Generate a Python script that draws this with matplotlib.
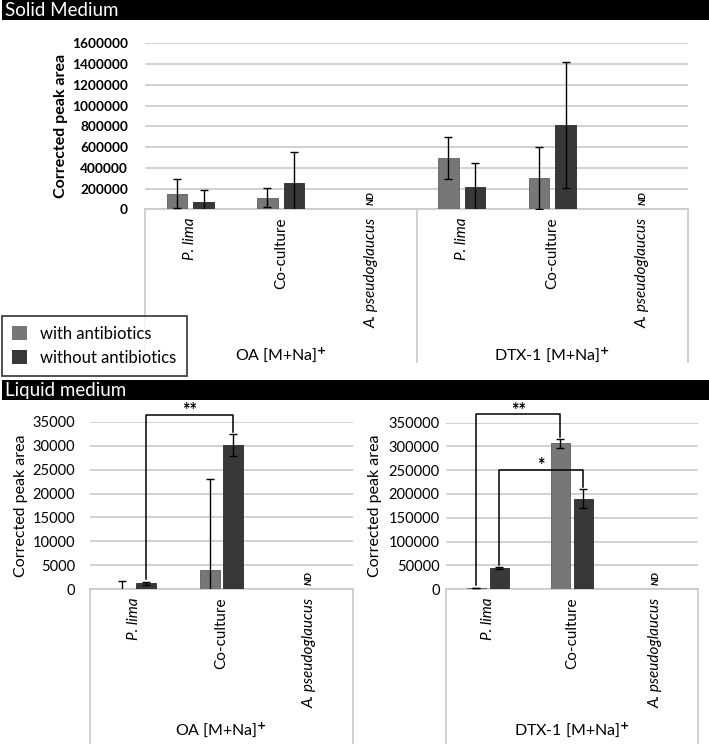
import matplotlib
matplotlib.use("Agg")
import matplotlib.pyplot as plt
from matplotlib.patches import Rectangle, Patch
from matplotlib.ticker import FuncFormatter
import matplotlib.transforms as mtransforms
import numpy as np

plt.rcParams['font.family'] = ['Lato', 'DejaVu Sans']

# ---------------- data ----------------
categories = ["P. lima", "Co-culture", "A. pseudoglaucus"]
italic_cats = [True, False, True]
nd_flags = [False, False, True]
series_labels = ["with antibiotics", "without antibiotics"]
compounds = ["OA [M+Na]", "DTX-1 [M+Na]"]

# Solid medium (OA group then DTX-1 group)
solid_with = [150000, 112000, 0, 494000, 305000, 0]
solid_with_err = [140000, 92000, 0, 200000, 300000, 0]
solid_without = [73000, 250000, 0, 215000, 810000, 0]
solid_without_err = [110000, 302000, 0, 234000, 606000, 0]

# Liquid medium OA
liq_oa_with = [100, 4000, 0]
liq_oa_with_err = [1650, 19000, 0]
liq_oa_without = [1250, 30100, 0]
liq_oa_without_err = [300, 2300, 0]

# Liquid medium DTX-1
liq_dtx_with = [2500, 306000, 0]
liq_dtx_with_err = [600, 9000, 0]
liq_dtx_without = [45000, 190000, 0]
liq_dtx_without_err = [1500, 20000, 0]

# significance brackets: (cat_a, series_a, cat_b, series_b, label)
oa_brackets = [(0, 1, 1, 1, "**")]
dtx_brackets = [(0, 0, 1, 0, "**"), (0, 1, 1, 1, "*")]

C_WITH = "#777777"
C_WITHOUT = "#383838"
GRID = "#c9c9c9"
W, H = 709, 744

fig = plt.figure(figsize=(W / 100, H / 100), dpi=100)


def px_axes(l, t, r, b):
    return fig.add_axes([l / W, 1 - b / H, (r - l) / W, (b - t) / H])


def header(text, top, bottom):
    fig.patches.append(Rectangle((2 / W, 1 - bottom / H), (W - 2) / W, (bottom - top) / H,
                                 transform=fig.transFigure, facecolor="black",
                                 edgecolor="none", zorder=0))
    fig.text(5 / W, 1 - (top + bottom) / 2 / H - 0.001, text, color="white", fontsize=13.5,
             va="center", ha="left")


def panel(ax, with_v, with_e, without_v, without_e, ymax, step, offset,
          ngroups, box_bottom, cat_y, bold, ylab_pad, tick_pad,
          ylab_size, tick_size):
    n = len(with_v)
    x = np.arange(n)
    width = 0.228
    wv = np.array(with_v, float); we = np.array(with_e, float)
    ov = np.array(without_v, float); oe = np.array(without_e, float)
    m1 = wv > 0
    m2 = ov > 0
    ax.bar(x[m1] - offset, wv[m1], width, color=C_WITH, edgecolor="#5e5e5e",
           linewidth=0.6, zorder=3)
    ax.bar(x[m2] + offset, ov[m2], width, color=C_WITHOUT, edgecolor="#2a2a2a",
           linewidth=0.6, zorder=3)
    ax.errorbar(x[m1] - offset, wv[m1], yerr=we[m1], fmt="none", ecolor="black",
                elinewidth=1, capsize=2.8, capthick=1, zorder=4)
    ax.errorbar(x[m2] + offset, ov[m2], yerr=oe[m2], fmt="none", ecolor="black",
                elinewidth=1, capsize=2.8, capthick=1, zorder=4)
    ax.set_xlim(-0.5, n - 0.5)
    ax.set_ylim(0, ymax)
    ax.set_yticks(np.arange(0, ymax + 1, step))
    ax.yaxis.set_major_formatter(FuncFormatter(lambda v, p: f"{int(round(v))}"))
    ax.yaxis.grid(True, color=GRID, linewidth=1.2, zorder=0)
    ax.set_axisbelow(True)
    for s in ["left", "right", "top"]:
        ax.spines[s].set_visible(False)
    ax.spines["bottom"].set_color(GRID)
    ax.spines["bottom"].set_linewidth(1.2)
    ax.tick_params(axis="both", length=0)
    ax.tick_params(axis="y", pad=tick_pad, labelsize=tick_size)
    ax.set_xticks([])
    for lab in ax.get_yticklabels():
        lab.set_fontweight("bold" if bold else "normal")
    ax.set_ylabel("Corrected peak area", fontsize=ylab_size,
                  fontweight="bold" if bold else "normal", labelpad=ylab_pad)
    tr = mtransforms.blended_transform_factory(ax.transData, ax.transAxes)
    per = len(categories)
    for g in range(ngroups + 1):
        xe = -0.5 + g * per
        ax.plot([xe, xe], [0, box_bottom], transform=tr, color=GRID, lw=1.2,
                clip_on=False, zorder=1)
    for g in range(ngroups):
        for k, cat in enumerate(categories):
            xi = g * per + k
            ax.text(xi, cat_y, cat, transform=tr, rotation=90, ha="center", va="top",
                    fontsize=11, fontstyle="italic" if italic_cats[k] else "normal")
            if nd_flags[k]:
                ax.text(xi, 0.025, "ND", transform=tr, rotation=90, ha="center",
                        va="bottom", fontsize=7, fontweight="bold", fontstyle="italic")
    return tr


def group_label(ax, tr, xc, y, name):
    ax.text(xc, y, name + r"$^{\mathbf{+}}$", transform=tr, ha="center", va="center",
            fontsize=11.5)


def brackets(ax, specs, with_v, with_e, without_v, without_e, offset, ymax, tops):
    for (ca, sa, cb, sb, lab), ytop in zip(specs, tops):
        def pos(c, s):
            if s == 0:
                return c - offset, with_v[c] + with_e[c]
            return c + offset, without_v[c] + without_e[c]
        xa, ya = pos(ca, sa)
        xb, yb = pos(cb, sb)
        gap = 0.015 * ymax
        ax.plot([xa, xa, xb, xb], [ya + gap, ytop, ytop, yb + gap], color="black",
                lw=1.1, clip_on=False, zorder=5)
        ax.text((xa + xb) / 2, ytop - 0.008 * ymax, lab, ha="center", va="baseline",
                fontsize=13, fontweight="bold", clip_on=False)


# ---------------- solid medium ----------------
header("Solid Medium", 0, 20)
ax1 = px_axes(145, 43.3, 688, 209.3)
tr1 = panel(ax1, solid_with, solid_with_err, solid_without, solid_without_err,
            1600000, 200000, 0.147, 2, -0.92, -0.05, True, 3, 12.2,
            11.5, 9.8)
group_label(ax1, tr1, 1, -0.875, compounds[0])
group_label(ax1, tr1, 4, -0.875, compounds[1])

leg = fig.legend(handles=[Patch(facecolor=C_WITH, edgecolor="none"),
                          Patch(facecolor=C_WITHOUT, edgecolor="none")],
                 labels=series_labels, loc="upper left",
                 bbox_to_anchor=(2 / W, 1 - 316 / H), bbox_transform=fig.transFigure,
                 frameon=True, fancybox=False, fontsize=12, handlelength=0.9,
                 handleheight=0.9, borderpad=0.6, labelspacing=0.45,
                 handletextpad=0.8, borderaxespad=0)
leg.get_frame().set_edgecolor("black")
leg.get_frame().set_linewidth(1.2)
leg.get_frame().set_facecolor("white")
leg.set_zorder(10)

# ---------------- liquid medium ----------------
header("Liquid medium", 380, 400)
ax2 = px_axes(90, 421.7, 353, 589.3)
tr2 = panel(ax2, liq_oa_with, liq_oa_with_err, liq_oa_without, liq_oa_without_err,
            35000, 5000, 0.135, 1, -0.93, -0.05, False, 3, 10.8, 11.5, 10.5)
group_label(ax2, tr2, 1, -0.84, compounds[0])
brackets(ax2, oa_brackets, liq_oa_with, liq_oa_with_err, liq_oa_without,
         liq_oa_without_err, 0.135, 35000, [36400])

ax3 = px_axes(445.7, 422.5, 698, 589.3)
tr3 = panel(ax3, liq_dtx_with, liq_dtx_with_err, liq_dtx_without, liq_dtx_without_err,
            350000, 50000, 0.135, 1, -0.93, -0.05, False, 5, 4.3, 11.5, 10.5)
group_label(ax3, tr3, 1, -0.84, compounds[1])
brackets(ax3, dtx_brackets, liq_dtx_with, liq_dtx_with_err, liq_dtx_without,
         liq_dtx_without_err, 0.135, 350000, [367000, 250000])

fig.savefig("out.png", dpi=100)
